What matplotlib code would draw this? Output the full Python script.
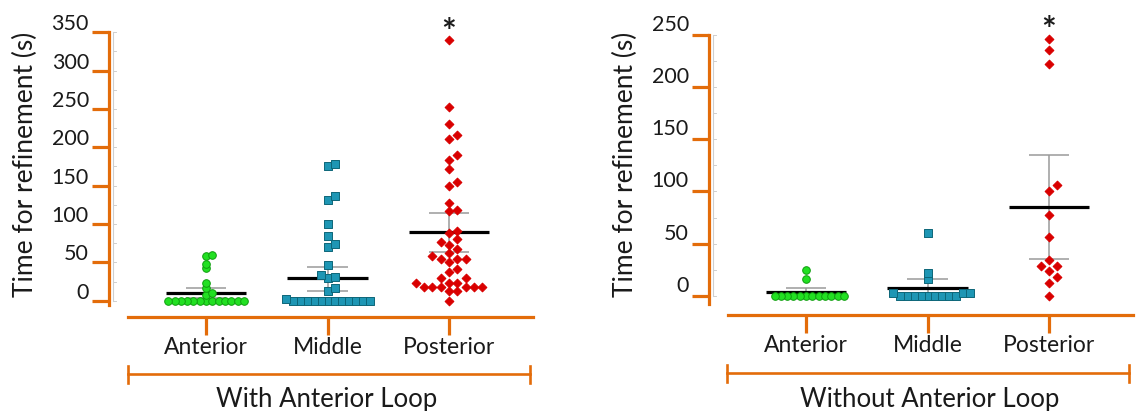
import numpy as np
import matplotlib
matplotlib.use("Agg")
import matplotlib.pyplot as plt
from matplotlib.transforms import ScaledTranslation, blended_transform_factory
from matplotlib.lines import Line2D

plt.rcParams['font.family'] = ['Lato', 'DejaVu Sans']

# ---------------- data ----------------
categories = ['Anterior', 'Middle', 'Posterior']
panel_titles = ['With Anterior Loop', 'Without Anterior Loop']
y_label = 'Time for refinement (s)'
y_ticks_with = [0, 50, 100, 150, 200, 250, 300, 350]
y_ticks_without = [0, 50, 100, 150, 200, 250]

with_anterior = [0, 0, 0, 0, 0, 0, 0, 0, 0, 0, 0, 0, 0, 7, 10, 17, 23, 42, 48, 58, 60]
with_middle = [0, 0, 0, 0, 0, 0, 0, 0, 0, 0, 0, 0, 2, 13, 16, 29, 31, 33, 46, 70, 74,
               85, 100, 131, 137, 175, 178]
with_posterior = [340, 252, 231, 216, 211, 190, 183, 172, 155, 150, 127, 118, 117, 91, 88,
                  81, 76, 73, 67, 62, 58, 55, 55, 55, 50, 41, 37, 30, 30, 23, 23, 23,
                  18, 18, 18, 18, 18, 18, 13, 13, 0]
with_mean = [10, 29, 89]
with_ci_low = [4, 13, 63]
with_ci_high = [16, 44, 115]

without_anterior = [0, 0, 0, 0, 0, 0, 0, 0, 0, 0, 0, 0, 16, 25]
without_middle = [0, 0, 0, 0, 0, 0, 0, 0, 0, 3, 3, 3, 16, 22, 60]
without_posterior = [246, 235, 222, 106, 100, 77, 56, 34, 29, 29, 24, 18, 12, 0]
without_mean = [3.8, 7.3, 85]
without_ci_low = [0.3, -1.9, 35]
without_ci_high = [7.3, 16.5, 135]

# ---------------- style ----------------
W, H, DPI = 1139, 411, 100
ORANGE = '#E36C0A'
TXT = '#1a1a1a'
styles = [
    dict(marker='o', fc='#22E022', ec='#0E9E0E', s=30, d=6.3, h=4.0),
    dict(marker='s', fc='#1E96B4', ec='#0D6679', s=26, d=7.0, h=5.0),
    dict(marker='D', fc='#D90000', ec='#D90000', s=20, d=8.3, h=7.0),
]

panels = [
    dict(series=[with_anterior, with_middle, with_posterior], mean=with_mean,
         lo=with_ci_low, hi=with_ci_high, ticks=y_ticks_with, title=panel_titles[0],
         axis_x=109, right=533, zero_y=300.7, top_y=32.3, bottom_y=316.7,
         spine_bot_y=305, xaxis_start=128, cat0=206, cat2=449,
         label_lift=10, bracket_y=374.3, bracket_l=127.7, bracket_r=530,
         title_x=326.7, ylabel_x=25),
    dict(series=[without_anterior, without_middle, without_posterior], mean=without_mean,
         lo=without_ci_low, hi=without_ci_high, ticks=y_ticks_without, title=panel_titles[1],
         axis_x=709, right=1133, zero_y=296, top_y=34.5, bottom_y=315,
         spine_bot_y=303.5, xaxis_start=728, cat0=806, cat2=1049,
         label_lift=12, bracket_y=373.3, bracket_l=726.7, bracket_r=1129.3,
         title_x=930, ylabel_x=625),
]

fig = plt.figure(figsize=(W / DPI, H / DPI), dpi=DPI)


def swarm(values, ax, d_px, h_px, step_px):
    vals = np.asarray(values, dtype=float)
    ys = ax.transData.transform(np.column_stack([np.zeros(len(vals)), vals]))[:, 1]
    order = np.argsort(vals, kind='stable')
    placed = []
    offs = np.zeros(len(vals))
    cands = [0] + [s * k for k in range(1, 40) for s in (1, -1)]
    for i in order:
        y = ys[i]
        for k in cands:
            x = k * d_px
            if all(not (abs(x - px) < d_px * 0.99 and abs(y - py) < h_px) for px, py in placed):
                break
        placed.append((x, y))
        offs[i] = x
    return offs / step_px


AX_TOP = 20
for p in panels:
    top_val = p['ticks'][-1]
    scale = (p['zero_y'] - p['top_y']) / top_val
    step = (p['cat2'] - p['cat0']) / 2.0
    ax = fig.add_axes([p['axis_x'] / W, 1 - p['bottom_y'] / H,
                       (p['right'] - p['axis_x']) / W, (p['bottom_y'] - AX_TOP) / H])
    ax.set_xlim((p['axis_x'] - p['cat0']) / step, (p['right'] - p['cat0']) / step)
    ax.set_ylim(-(p['bottom_y'] - p['zero_y']) / scale, (p['zero_y'] - AX_TOP) / scale)
    ax.patch.set_alpha(0)
    for side in ('top', 'right'):
        ax.spines[side].set_visible(False)
    for side in ('left', 'bottom'):
        ax.spines[side].set_color(ORANGE)
        ax.spines[side].set_linewidth(2.3)
    ax.spines['left'].set_bounds(-(p['spine_bot_y'] - p['zero_y']) / scale, top_val)
    ax.spines['bottom'].set_bounds((p['xaxis_start'] - p['cat0']) / step, ax.get_xlim()[1])

    ax.set_yticks(p['ticks'])
    ax.set_yticklabels([str(t) for t in p['ticks']])
    ax.tick_params(axis='y', direction='out', length=12.5, width=2.3, color=ORANGE,
                   labelsize=15.5, labelcolor=TXT, pad=2)
    lift = ScaledTranslation(0, p['label_lift'] / DPI, fig.dpi_scale_trans)
    for lab in ax.get_yticklabels():
        lab.set_transform(lab.get_transform() + lift)

    ax.set_xticks(range(len(categories)))
    ax.set_xticklabels(categories)
    ax.tick_params(axis='x', direction='out', length=12.7, width=2.3, color=ORANGE,
                   labelsize=16.5, labelcolor=TXT, pad=2)

    # faint inner gray axis
    gx = 4.0 / (p['right'] - p['axis_x'])
    bt = blended_transform_factory(ax.transAxes, ax.transData)
    ax.plot([gx, gx], [0, top_val], transform=bt, color='#cfcfcf', lw=0.8, clip_on=False)
    for t in np.arange(0, top_val + 1, 25):
        ax.plot([gx, gx + 2.5 / (p['right'] - p['axis_x'])], [t, t], transform=bt,
                color='#cfcfcf', lw=0.7, clip_on=False)

    # points, error bars, means
    for i, (vals, st) in enumerate(zip(p['series'], styles)):
        offs = swarm(vals, ax, st['d'], st['h'], step)
        ax.vlines(i, p['lo'][i], p['hi'][i], color='#9a9a9a', lw=1.1, zorder=2)
        ax.hlines([p['lo'][i], p['hi'][i]], i - 0.165, i + 0.165, color='#9a9a9a',
                  lw=1.1, zorder=2)
        ax.hlines(p['mean'][i], i - 0.33, i + 0.33, color='black', lw=2.3, zorder=2.5)
        ax.scatter(i + offs, vals, marker=st['marker'], s=st['s'], facecolor=st['fc'],
                   edgecolor=st['ec'], linewidths=0.7, zorder=3, clip_on=False)

    ax.annotate('*', xy=(2, max(p['series'][2])), xytext=(0, -2), textcoords='offset points',
                ha='center', va='baseline', fontsize=25, fontweight='bold', color=TXT,
                annotation_clip=False)

    # bracket
    by = 1 - p['bracket_y'] / H
    cap = 8.3 / H
    fig.add_artist(Line2D([p['bracket_l'] / W, p['bracket_r'] / W], [by, by],
                          transform=fig.transFigure, color=ORANGE, lw=1.9))
    for bx in (p['bracket_l'], p['bracket_r']):
        fig.add_artist(Line2D([bx / W, bx / W], [by - cap, by + cap],
                              transform=fig.transFigure, color=ORANGE, lw=1.9))
    fig.text(p['title_x'] / W, 1 - 399 / H, p['title'], ha='center', va='center',
             fontsize=18.5, color=TXT)
    fig.text(p['ylabel_x'] / W, 1 - 164 / H, y_label, ha='center', va='center',
             rotation=90, fontsize=19, color=TXT)

fig.savefig('out.png', dpi=DPI)
